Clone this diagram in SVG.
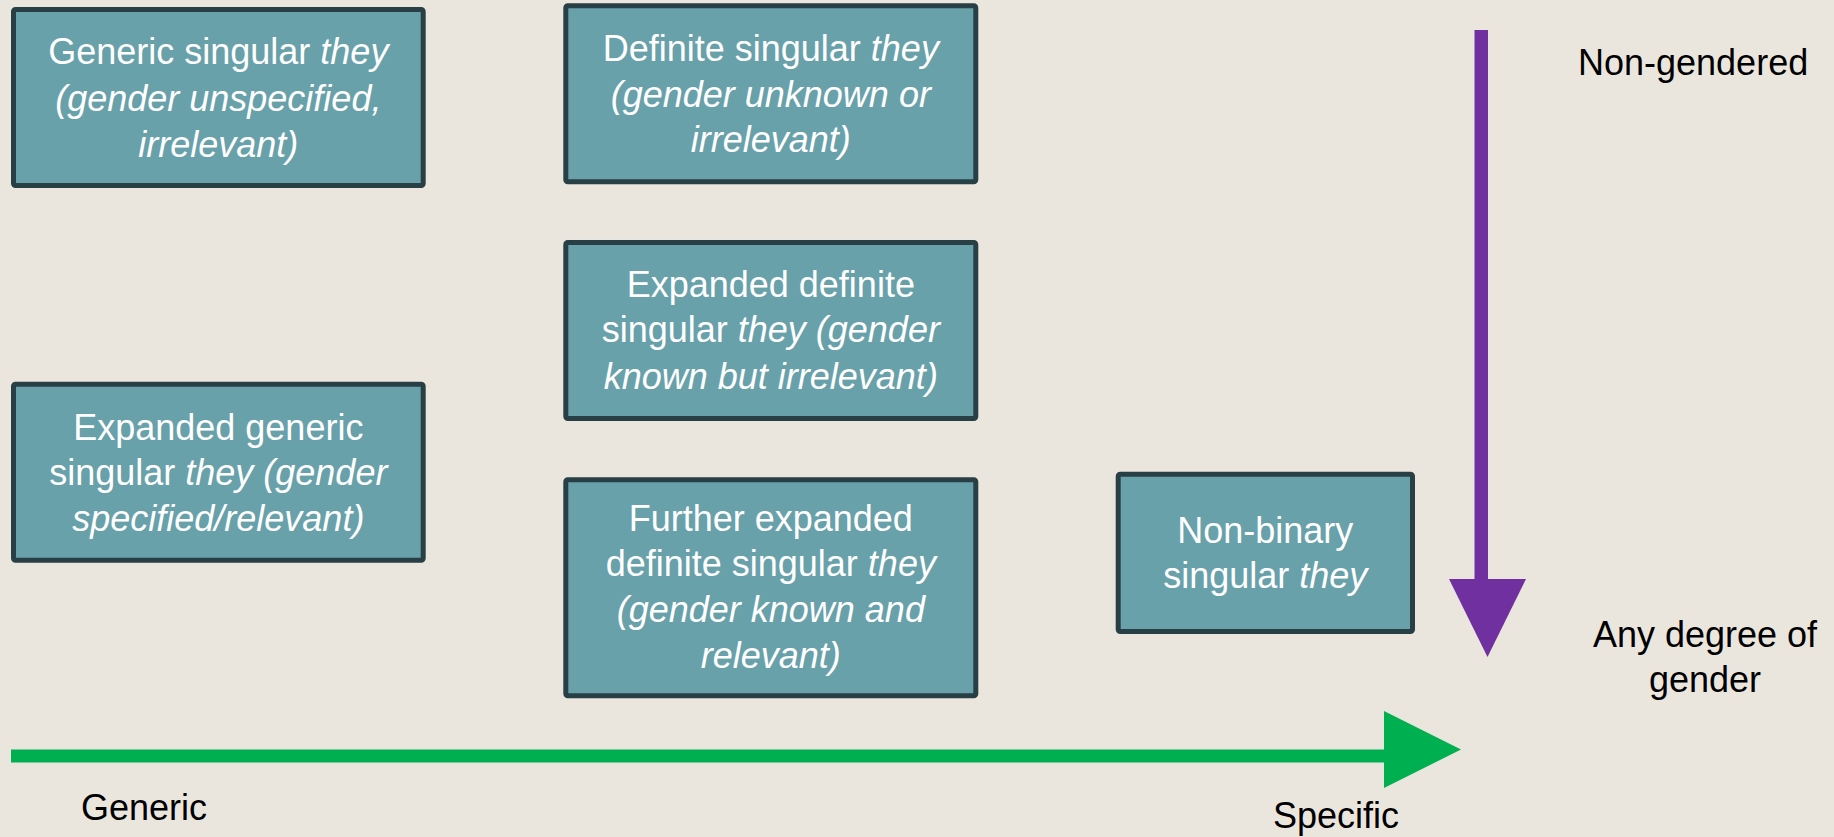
<svg xmlns="http://www.w3.org/2000/svg" width="1834" height="837" viewBox="0 0 1834 837">
<style>
.box{fill:#68A1AA;stroke:#273F45;stroke-width:5;}
.bt{font-family:"Liberation Sans",Arial,sans-serif;font-size:36px;fill:#FFFFFF;text-anchor:middle;}
.it{font-style:italic;}
.lbl{font-family:"Liberation Sans",Arial,sans-serif;font-size:36px;fill:#000000;}
</style>
<rect x="0" y="0" width="1834" height="837" fill="#EAE6DD"/>
<g id="connectors">
<g id="vertical-arrow" fill="#7030A0">
<rect x="1474.5" y="30" width="13.5" height="551"/>
<polygon points="1449,579 1526,579 1487.5,657"/>
</g>
<g id="horizontal-arrow" fill="#00B050">
<rect x="11" y="749.5" width="1375" height="13"/>
<polygon points="1384,711 1384,788 1461,749.5"/>
</g>
</g>
<g id="generic-singular">
<rect class="box" x="13.5" y="9.5" width="409.7" height="176" rx="2"/>
<text class="bt" x="218.3" y="64">Generic singular <tspan class="it">they</tspan></text>
<text class="bt it" x="218.3" y="111">(gender unspecified,</text>
<text class="bt it" x="218.3" y="157">irrelevant)</text>
</g>
<g id="definite-singular">
<rect class="box" x="565.8" y="5.8" width="410" height="176" rx="2"/>
<text class="bt" x="770.8" y="61">Definite singular <tspan class="it">they</tspan></text>
<text class="bt it" x="770.8" y="106.5">(gender unknown or</text>
<text class="bt it" x="770.8" y="152">irrelevant)</text>
</g>
<g id="expanded-definite">
<rect class="box" x="565.8" y="242.5" width="410" height="176" rx="2"/>
<text class="bt" x="770.8" y="297">Expanded definite</text>
<text class="bt" x="770.8" y="342">singular <tspan class="it">they (gender</tspan></text>
<text class="bt it" x="770.8" y="388.5">known but irrelevant)</text>
</g>
<g id="expanded-generic">
<rect class="box" x="13.5" y="384.2" width="409.7" height="176" rx="2"/>
<text class="bt" x="218.3" y="440">Expanded generic</text>
<text class="bt" x="218.3" y="485">singular <tspan class="it">they (gender</tspan></text>
<text class="bt it" x="218.3" y="531">specified/relevant)</text>
</g>
<g id="further-expanded">
<rect class="box" x="565.8" y="479.8" width="410" height="216" rx="2"/>
<text class="bt" x="770.8" y="531">Further expanded</text>
<text class="bt" x="770.8" y="576">definite singular <tspan class="it">they</tspan></text>
<text class="bt it" x="770.8" y="622">(gender known and</text>
<text class="bt it" x="770.8" y="668">relevant)</text>
</g>
<g id="non-binary">
<rect class="box" x="1118.2" y="474.2" width="294.3" height="157.3" rx="2"/>
<text class="bt" x="1265.3" y="542.5">Non-binary</text>
<text class="bt" x="1265.3" y="587.5">singular <tspan class="it">they</tspan></text>
</g>
<g id="labels">
<text class="lbl" x="1578" y="75">Non-gendered</text>
<text class="lbl" x="1705" y="647" text-anchor="middle">Any degree of</text>
<text class="lbl" x="1705" y="691.5" text-anchor="middle">gender</text>
<text class="lbl" x="81" y="820">Generic</text>
<text class="lbl" x="1273" y="828">Specific</text>
</g>
</svg>
